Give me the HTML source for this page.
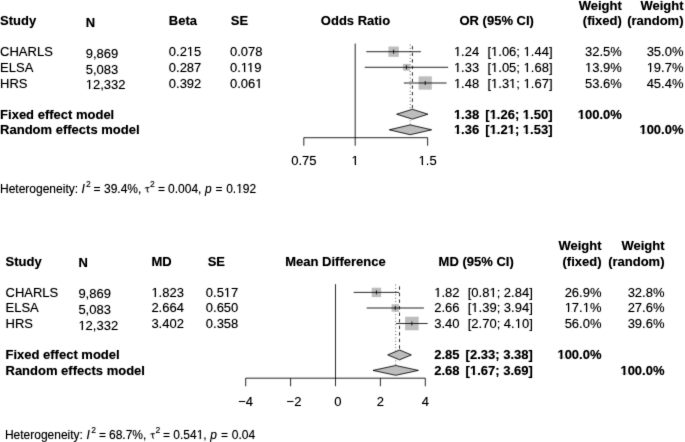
<!DOCTYPE html>
<html><head><meta charset="utf-8"><style>
html,body{margin:0;padding:0;background:#fff;width:685px;height:442px;overflow:hidden}
svg{display:block}
text{font-family:"Liberation Sans",sans-serif;font-size:13px;fill:#000}
text.h{font-size:12px}
text.hs{font-size:8.6px}
text.ht{font-size:13.5px}
.ln{stroke:#000;stroke-width:0.7}
.ci{stroke:#000;stroke-width:0.7}
.fx{stroke:#000;stroke-width:0.7;stroke-dasharray:3.3 3.25}
.rd{stroke:#777;stroke-width:1;stroke-dasharray:0.9 2.4}
.sq{fill:#cbcbcb}
.dm{fill:#cbcbcb;stroke:#000;stroke-width:0.7}
</style></head><body>
<svg width="685" height="442" viewBox="0 0 685 442">
<defs><filter id="bl" x="0" y="0" width="685" height="442" filterUnits="userSpaceOnUse" color-interpolation-filters="sRGB"><feConvolveMatrix order="3" kernelMatrix="0.01134 0.08382 0.01134 0.08382 0.61935 0.08382 0.01134 0.08382 0.01134" edgeMode="none"/><feComponentTransfer><feFuncR type="gamma" exponent="1.3"/><feFuncG type="gamma" exponent="1.3"/><feFuncB type="gamma" exponent="1.3"/></feComponentTransfer></filter></defs>
<g filter="url(#bl)"><rect width="685" height="442" fill="#fff"/>
<text x="0.10" y="24.90" font-weight="bold">Study</text>
<text x="85.70" y="26.80" font-weight="bold">N</text>
<text x="168.80" y="24.90" font-weight="bold">Beta</text>
<text x="230.80" y="24.90" font-weight="bold">SE</text>
<text x="355.50" y="24.90" font-weight="bold" text-anchor="middle">Odds Ratio</text>
<text x="459.50" y="24.90" font-weight="bold">OR (95% CI)</text>
<text x="621.80" y="9.60" font-weight="bold" text-anchor="end">Weight</text>
<text x="621.80" y="24.90" font-weight="bold" text-anchor="end">(fixed)</text>
<text x="683.50" y="9.60" font-weight="bold" text-anchor="end">Weight</text>
<text x="683.50" y="24.90" font-weight="bold" text-anchor="end">(random)</text>
<text x="0.10" y="56.30">CHARLS</text>
<text x="85.70" y="58.20">9,869</text>
<text x="168.80" y="56.30">0.215</text>
<text x="230.00" y="56.30">0.078</text>
<text x="453.90" y="56.30">1.24</text>
<text x="552.50" y="56.30" text-anchor="end">[1.06; 1.44]</text>
<text x="621.80" y="56.30" text-anchor="end">32.5%</text>
<text x="683.50" y="56.30" text-anchor="end">35.0%</text>
<text x="0.10" y="71.90">ELSA</text>
<text x="85.70" y="73.80">5,083</text>
<text x="168.80" y="71.90">0.287</text>
<text x="230.00" y="71.90">0.119</text>
<text x="453.90" y="71.90">1.33</text>
<text x="552.50" y="71.90" text-anchor="end">[1.05; 1.68]</text>
<text x="621.80" y="71.90" text-anchor="end">13.9%</text>
<text x="683.50" y="71.90" text-anchor="end">19.7%</text>
<text x="0.10" y="87.50">HRS</text>
<text x="85.70" y="89.40">12,332</text>
<text x="168.80" y="87.50">0.392</text>
<text x="230.00" y="87.50">0.061</text>
<text x="453.90" y="87.50">1.48</text>
<text x="552.50" y="87.50" text-anchor="end">[1.31; 1.67]</text>
<text x="621.80" y="87.50" text-anchor="end">53.6%</text>
<text x="683.50" y="87.50" text-anchor="end">45.4%</text>
<text x="0.10" y="118.70" font-weight="bold">Fixed effect model</text>
<text x="0.10" y="134.30" font-weight="bold">Random effects model</text>
<text x="453.90" y="118.70" font-weight="bold">1.38</text>
<text x="552.50" y="118.70" font-weight="bold" text-anchor="end">[1.26; 1.50]</text>
<text x="453.90" y="134.30" font-weight="bold">1.36</text>
<text x="552.50" y="134.30" font-weight="bold" text-anchor="end">[1.21; 1.53]</text>
<text x="621.80" y="118.70" font-weight="bold" text-anchor="end">100.0%</text>
<text x="683.50" y="134.30" font-weight="bold" text-anchor="end">100.0%</text>
<line x1="355.20" y1="43.6" x2="355.20" y2="137.7" class="ln"/>
<line x1="412.41" y1="44.3" x2="412.41" y2="109.2" class="fx" stroke-dashoffset="4.75"/>
<line x1="410.21" y1="44.6" x2="410.21" y2="124.80000000000001" class="rd"/>
<rect x="388.44" y="46.54" width="10.32" height="10.32" class="sq"/>
<line x1="366.29" y1="51.7" x2="420.90" y2="51.7" class="ci"/>
<line x1="393.60" y1="49.7" x2="393.60" y2="53.7" class="ci"/>
<rect x="403.08" y="63.93" width="6.75" height="6.75" class="sq"/>
<line x1="364.80" y1="67.3" x2="448.11" y2="67.3" class="ci"/>
<line x1="406.46" y1="65.3" x2="406.46" y2="69.3" class="ci"/>
<rect x="418.59" y="76.37" width="13.25" height="13.25" class="sq"/>
<line x1="403.86" y1="83.0" x2="446.56" y2="83.0" class="ci"/>
<line x1="425.21" y1="81.0" x2="425.21" y2="85.0" class="ci"/>
<polygon points="396.67,114.2 412.41,109.3 427.85,114.2 412.41,119.10000000000001" class="dm"/>
<polygon points="389.33,129.8 410.21,124.9 431.59,129.8 410.21,134.70000000000002" class="dm"/>
<line x1="303.82" y1="137.7" x2="427.62" y2="137.7" class="ln"/>
<line x1="303.82" y1="137.7" x2="303.82" y2="145.7" class="ln"/>
<text x="303.82" y="165.40" text-anchor="middle">0.75</text>
<line x1="355.20" y1="137.7" x2="355.20" y2="145.7" class="ln"/>
<text x="355.20" y="165.40" text-anchor="middle">1</text>
<line x1="427.62" y1="137.7" x2="427.62" y2="145.7" class="ln"/>
<text x="427.62" y="165.40" text-anchor="middle">1.5</text>
<text class="h" x="0.0" y="193.0">Heterogeneity:</text>
<text class="h" x="81.4" y="193.0" font-style="italic">I</text>
<text class="hs" transform="translate(86.0,186.6) scale(1,1.0)" x="0" y="0">2</text>
<text class="h" x="93.4" y="193.0">=</text>
<text class="h" x="104.0" y="193.0">39.4%,</text>
<path d="M145.00,188.30 Q145.30,187.60 146.20,187.60 L149.40,187.60 M147.20,187.60 L147.30,191.40 Q147.40,192.50 148.60,191.90" fill="none" stroke="#000" stroke-width="0.85"/>
<text class="hs" transform="translate(150.0,186.6) scale(1,1.0)" x="0" y="0">2</text>
<text class="h" x="158.0" y="193.0">=</text>
<text class="h" x="168.1" y="193.0">0.004,</text>
<text class="h" x="205.0" y="193.0" font-style="italic">p</text>
<text class="h" x="215.4" y="193.0">=</text>
<text class="h" x="226.2" y="193.0">0.192</text>
<text x="5.50" y="265.70" font-weight="bold">Study</text>
<text x="78.40" y="267.40" font-weight="bold">N</text>
<text x="151.40" y="265.70" font-weight="bold">MD</text>
<text x="207.70" y="265.70" font-weight="bold">SE</text>
<text x="335.50" y="265.70" font-weight="bold" text-anchor="middle">Mean Difference</text>
<text x="438.60" y="265.70" font-weight="bold">MD (95% CI)</text>
<text x="601.50" y="249.80" font-weight="bold" text-anchor="end">Weight</text>
<text x="601.50" y="265.70" font-weight="bold" text-anchor="end">(fixed)</text>
<text x="664.50" y="249.80" font-weight="bold" text-anchor="end">Weight</text>
<text x="664.50" y="265.70" font-weight="bold" text-anchor="end">(random)</text>
<text x="5.50" y="296.60">CHARLS</text>
<text x="78.40" y="298.30">9,869</text>
<text x="151.40" y="296.60">1.823</text>
<text x="205.80" y="296.60">0.517</text>
<text x="434.20" y="296.60">1.82</text>
<text x="532.80" y="296.60" text-anchor="end">[0.81; 2.84]</text>
<text x="601.50" y="296.60" text-anchor="end">26.9%</text>
<text x="664.50" y="296.60" text-anchor="end">32.8%</text>
<text x="5.50" y="312.20">ELSA</text>
<text x="78.40" y="313.90">5,083</text>
<text x="151.40" y="312.20">2.664</text>
<text x="205.80" y="312.20">0.650</text>
<text x="434.20" y="312.20">2.66</text>
<text x="532.80" y="312.20" text-anchor="end">[1.39; 3.94]</text>
<text x="601.50" y="312.20" text-anchor="end">17.1%</text>
<text x="664.50" y="312.20" text-anchor="end">27.6%</text>
<text x="5.50" y="327.80">HRS</text>
<text x="78.40" y="329.50">12,332</text>
<text x="151.40" y="327.80">3.402</text>
<text x="205.80" y="327.80">0.358</text>
<text x="434.20" y="327.80">3.40</text>
<text x="532.80" y="327.80" text-anchor="end">[2.70; 4.10]</text>
<text x="601.50" y="327.80" text-anchor="end">56.0%</text>
<text x="664.50" y="327.80" text-anchor="end">39.6%</text>
<text x="5.50" y="359.10" font-weight="bold">Fixed effect model</text>
<text x="5.50" y="374.70" font-weight="bold">Random effects model</text>
<text x="434.20" y="359.10" font-weight="bold">2.85</text>
<text x="532.80" y="359.10" font-weight="bold" text-anchor="end">[2.33; 3.38]</text>
<text x="434.20" y="374.70" font-weight="bold">2.68</text>
<text x="532.80" y="374.70" font-weight="bold" text-anchor="end">[1.67; 3.69]</text>
<text x="601.50" y="359.10" font-weight="bold" text-anchor="end">100.0%</text>
<text x="664.50" y="374.70" font-weight="bold" text-anchor="end">100.0%</text>
<line x1="335.50" y1="284.2" x2="335.50" y2="378.2" class="ln"/>
<line x1="399.52" y1="284.6" x2="399.52" y2="350.00000000000006" class="fx" stroke-dashoffset="4.75"/>
<line x1="395.68" y1="284.6" x2="395.68" y2="365.6000000000001" class="rd"/>
<rect x="371.73" y="287.71" width="9.39" height="9.39" class="sq"/>
<line x1="353.68" y1="292.4" x2="399.17" y2="292.4" class="ci"/>
<line x1="376.43" y1="290.4" x2="376.43" y2="294.4" class="ci"/>
<rect x="391.56" y="304.26" width="7.48" height="7.48" class="sq"/>
<line x1="366.71" y1="308.0" x2="423.91" y2="308.0" class="ci"/>
<line x1="395.31" y1="306.0" x2="395.31" y2="310.0" class="ci"/>
<rect x="405.10" y="316.73" width="13.54" height="13.54" class="sq"/>
<line x1="396.12" y1="323.5" x2="427.63" y2="323.5" class="ci"/>
<line x1="411.87" y1="321.5" x2="411.87" y2="325.5" class="ci"/>
<polygon points="387.73,354.9 399.52,350.0 411.32,354.9 399.52,359.79999999999995" class="dm"/>
<polygon points="373.00,370.4 395.68,365.5 418.36,370.4 395.68,375.29999999999995" class="dm"/>
<line x1="245.70" y1="378.2" x2="425.30" y2="378.2" class="ln"/>
<line x1="245.70" y1="378.2" x2="245.70" y2="386.2" class="ln"/>
<text x="245.70" y="406.00" text-anchor="middle">−4</text>
<line x1="290.60" y1="378.2" x2="290.60" y2="386.2" class="ln"/>
<text x="294.00" y="406.00" text-anchor="middle">−2</text>
<line x1="335.50" y1="378.2" x2="335.50" y2="386.2" class="ln"/>
<text x="337.80" y="406.00" text-anchor="middle">0</text>
<line x1="380.40" y1="378.2" x2="380.40" y2="386.2" class="ln"/>
<text x="380.40" y="406.00" text-anchor="middle">2</text>
<line x1="425.30" y1="378.2" x2="425.30" y2="386.2" class="ln"/>
<text x="425.30" y="406.00" text-anchor="middle">4</text>
<text class="h" x="4.9" y="439.1">Heterogeneity:</text>
<text class="h" x="86.4" y="439.1" font-style="italic">I</text>
<text class="hs" transform="translate(91.2,432.9) scale(1,1.0)" x="0" y="0">2</text>
<text class="h" x="99.1" y="439.1">=</text>
<text class="h" x="109.0" y="439.1">68.7%,</text>
<path d="M150.40,434.40 Q150.70,433.70 151.60,433.70 L154.80,433.70 M152.60,433.70 L152.70,437.50 Q152.80,438.60 154.00,438.00" fill="none" stroke="#000" stroke-width="0.85"/>
<text class="hs" transform="translate(155.4,432.9) scale(1,1.0)" x="0" y="0">2</text>
<text class="h" x="163.0" y="439.1">=</text>
<text class="h" x="173.3" y="439.1">0.541,</text>
<text class="h" x="210.2" y="439.1" font-style="italic">p</text>
<text class="h" x="220.9" y="439.1">=</text>
<text class="h" x="231.8" y="439.1">0.04</text>
<!--ones--><rect x="187.28" y="54.98" width="2.85" height="1.12" fill="#fff"/><rect x="191.28" y="54.98" width="2.49" height="1.12" fill="#fff"/><rect x="454.32" y="54.98" width="2.85" height="1.12" fill="#fff"/><rect x="458.32" y="54.98" width="2.49" height="1.12" fill="#fff"/><rect x="491.47" y="54.98" width="2.85" height="1.12" fill="#fff"/><rect x="495.46" y="54.98" width="2.49" height="1.12" fill="#fff"/><rect x="523.98" y="54.98" width="2.85" height="1.12" fill="#fff"/><rect x="527.98" y="54.98" width="2.49" height="1.12" fill="#fff"/><rect x="241.25" y="70.98" width="2.85" height="1.12" fill="#fff"/><rect x="245.25" y="70.98" width="2.49" height="1.12" fill="#fff"/><rect x="247.51" y="70.98" width="2.85" height="1.12" fill="#fff"/><rect x="251.51" y="70.98" width="2.49" height="1.12" fill="#fff"/><rect x="454.32" y="70.98" width="2.85" height="1.12" fill="#fff"/><rect x="458.32" y="70.98" width="2.49" height="1.12" fill="#fff"/><rect x="491.47" y="70.98" width="2.85" height="1.12" fill="#fff"/><rect x="495.46" y="70.98" width="2.49" height="1.12" fill="#fff"/><rect x="523.98" y="70.98" width="2.85" height="1.12" fill="#fff"/><rect x="527.98" y="70.98" width="2.49" height="1.12" fill="#fff"/><rect x="585.34" y="70.98" width="2.85" height="1.12" fill="#fff"/><rect x="589.34" y="70.98" width="2.49" height="1.12" fill="#fff"/><rect x="647.04" y="70.98" width="2.85" height="1.12" fill="#fff"/><rect x="651.04" y="70.98" width="2.49" height="1.12" fill="#fff"/><rect x="86.12" y="87.98" width="2.85" height="1.12" fill="#fff"/><rect x="90.12" y="87.98" width="2.49" height="1.12" fill="#fff"/><rect x="255.72" y="86.98" width="2.85" height="1.12" fill="#fff"/><rect x="259.71" y="86.98" width="2.49" height="1.12" fill="#fff"/><rect x="454.32" y="86.98" width="2.85" height="1.12" fill="#fff"/><rect x="458.32" y="86.98" width="2.49" height="1.12" fill="#fff"/><rect x="491.47" y="86.98" width="2.85" height="1.12" fill="#fff"/><rect x="495.46" y="86.98" width="2.49" height="1.12" fill="#fff"/><rect x="509.53" y="86.98" width="2.85" height="1.12" fill="#fff"/><rect x="513.53" y="86.98" width="2.49" height="1.12" fill="#fff"/><rect x="523.98" y="86.98" width="2.85" height="1.12" fill="#fff"/><rect x="527.98" y="86.98" width="2.49" height="1.12" fill="#fff"/><rect x="454.15" y="117.62" width="2.79" height="1.48" fill="#fff"/><rect x="458.72" y="117.62" width="2.37" height="1.48" fill="#fff"/><rect x="489.87" y="117.62" width="2.79" height="1.48" fill="#fff"/><rect x="494.44" y="117.62" width="2.37" height="1.48" fill="#fff"/><rect x="523.11" y="117.62" width="2.79" height="1.48" fill="#fff"/><rect x="527.68" y="117.62" width="2.37" height="1.48" fill="#fff"/><rect x="454.15" y="132.62" width="2.79" height="1.48" fill="#fff"/><rect x="458.72" y="132.62" width="2.37" height="1.48" fill="#fff"/><rect x="489.87" y="132.62" width="2.79" height="1.48" fill="#fff"/><rect x="494.44" y="132.62" width="2.37" height="1.48" fill="#fff"/><rect x="507.94" y="132.62" width="2.79" height="1.48" fill="#fff"/><rect x="512.51" y="132.62" width="2.37" height="1.48" fill="#fff"/><rect x="523.11" y="132.62" width="2.79" height="1.48" fill="#fff"/><rect x="527.68" y="132.62" width="2.37" height="1.48" fill="#fff"/><rect x="577.95" y="117.62" width="2.79" height="1.48" fill="#fff"/><rect x="582.52" y="117.62" width="2.37" height="1.48" fill="#fff"/><rect x="639.65" y="132.62" width="2.79" height="1.48" fill="#fff"/><rect x="644.22" y="132.62" width="2.37" height="1.48" fill="#fff"/><rect x="352.00" y="163.98" width="2.85" height="1.12" fill="#fff"/><rect x="356.00" y="163.98" width="2.49" height="1.12" fill="#fff"/><rect x="419.00" y="163.98" width="2.85" height="1.12" fill="#fff"/><rect x="423.00" y="163.98" width="2.49" height="1.12" fill="#fff"/><rect x="236.59" y="192.05" width="2.63" height="1.05" fill="#fff"/><rect x="240.28" y="192.05" width="2.30" height="1.05" fill="#fff"/><rect x="151.82" y="295.98" width="2.85" height="1.12" fill="#fff"/><rect x="155.82" y="295.98" width="2.49" height="1.12" fill="#fff"/><rect x="224.28" y="295.98" width="2.85" height="1.12" fill="#fff"/><rect x="228.28" y="295.98" width="2.49" height="1.12" fill="#fff"/><rect x="434.62" y="295.98" width="2.85" height="1.12" fill="#fff"/><rect x="438.62" y="295.98" width="2.49" height="1.12" fill="#fff"/><rect x="489.83" y="295.98" width="2.85" height="1.12" fill="#fff"/><rect x="493.83" y="295.98" width="2.49" height="1.12" fill="#fff"/><rect x="471.77" y="310.98" width="2.85" height="1.12" fill="#fff"/><rect x="475.76" y="310.98" width="2.49" height="1.12" fill="#fff"/><rect x="565.04" y="310.98" width="2.85" height="1.12" fill="#fff"/><rect x="569.04" y="310.98" width="2.49" height="1.12" fill="#fff"/><rect x="583.11" y="310.98" width="2.85" height="1.12" fill="#fff"/><rect x="587.11" y="310.98" width="2.49" height="1.12" fill="#fff"/><rect x="78.82" y="328.98" width="2.85" height="1.12" fill="#fff"/><rect x="82.82" y="328.98" width="2.49" height="1.12" fill="#fff"/><rect x="515.13" y="326.98" width="2.85" height="1.12" fill="#fff"/><rect x="519.12" y="326.98" width="2.49" height="1.12" fill="#fff"/><rect x="470.17" y="373.62" width="2.79" height="1.48" fill="#fff"/><rect x="474.74" y="373.62" width="2.37" height="1.48" fill="#fff"/><rect x="557.65" y="357.62" width="2.79" height="1.48" fill="#fff"/><rect x="562.22" y="357.62" width="2.37" height="1.48" fill="#fff"/><rect x="620.65" y="373.62" width="2.79" height="1.48" fill="#fff"/><rect x="625.22" y="373.62" width="2.37" height="1.48" fill="#fff"/><rect x="197.03" y="438.05" width="2.63" height="1.05" fill="#fff"/><rect x="200.72" y="438.05" width="2.30" height="1.05" fill="#fff"/><!--/ones--></g></svg></body></html>
